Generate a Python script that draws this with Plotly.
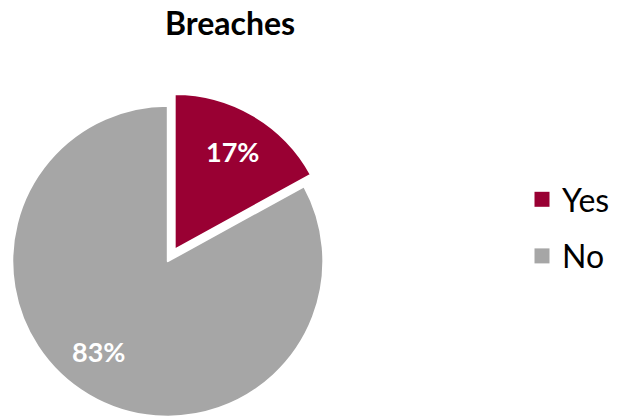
import math
import plotly.graph_objects as go

# Data
labels = ["Yes", "No"]
values = [17, 83]
colors = ["#990033", "#A6A6A6"]
title_text = "Breaches"

W, H = 620, 419
GAP = "rgba(0,0,0,0)"

# Pie geometry (pixels)
CX, CY, R = 167.8, 261.2, 155.5
PULL_PX = 13.5
LABEL_R = 0.735                 # label distance as a fraction of the radius
LABEL_SHIFT_DEG = [0, 7]        # nudge of each label around the pie


def domain(cx, cy, r):
    return dict(x=[(cx - r) / W, (cx + r) / W],
                y=[1 - (cy + r) / H, 1 - (cy - r) / H])


# Slice angles, clockwise from 12 o'clock
total = sum(values)
starts, mids = [], []
acc = 0.0
for v in values:
    starts.append(acc)
    mids.append(2 * math.pi * (acc + v / 2) / total)
    acc += v

# The "Yes" slice is exploded outward along its mid-angle
dx, dy = PULL_PX * math.sin(mids[0]), -PULL_PX * math.cos(mids[0])
centers = [(CX + dx, CY + dy), (CX, CY)]

fig = go.Figure()

# "No" slice at the pie centre; the "Yes" wedge is left empty
fig.add_trace(go.Pie(
    labels=labels, values=values, sort=False, direction="clockwise", rotation=0,
    marker=dict(colors=[GAP, colors[1]], line=dict(color="white", width=[0, 2])),
    textinfo="none", domain=domain(*centers[1], R),
    showlegend=False, hoverinfo="skip",
))

# "Yes" slice
fig.add_trace(go.Pie(
    labels=labels, values=values, sort=False, direction="clockwise", rotation=0,
    marker=dict(colors=[colors[0], GAP], line=dict(color="white", width=[2, 0])),
    textinfo="none", domain=domain(*centers[0], R),
    showlegend=False, hoverinfo="skip",
))

# Percentage labels inside each slice
for i, v in enumerate(values):
    ang = mids[i] + math.radians(LABEL_SHIFT_DEG[i])
    cx, cy = centers[i]
    px = cx + LABEL_R * R * math.sin(ang)
    py = cy - LABEL_R * R * math.cos(ang)
    fig.add_annotation(
        x=px / W, y=1 - py / H, xref="paper", yref="paper",
        xanchor="center", yanchor="middle", showarrow=False,
        text=f"<b>{round(100 * v / total)}%</b>",
        font=dict(family="Lato", size=27, color="white"),
    )

# Legend entries
for lab, col in zip(labels, colors):
    fig.add_trace(go.Scatter(
        x=[None], y=[None], mode="markers", name=lab, legendgroup=lab,
        marker=dict(symbol="square", size=15, color=col),
    ))

fig.update_layout(
    width=W, height=H,
    margin=dict(l=0, r=0, t=0, b=0),
    paper_bgcolor="white", plot_bgcolor="white",
    title=dict(text=f"<b>{title_text}</b>", x=230 / W, xanchor="center",
               y=1 - 24 / H, yanchor="middle",
               font=dict(family="Lato", size=32, color="#000000")),
    xaxis=dict(visible=False), yaxis=dict(visible=False),
    legend=dict(x=522 / W, xanchor="left", y=1 - 172 / H, yanchor="top",
                font=dict(family="Lato", size=32, color="#000000"),
                tracegroupgap=12, bgcolor="rgba(0,0,0,0)"),
)

fig.write_html("out.html")
